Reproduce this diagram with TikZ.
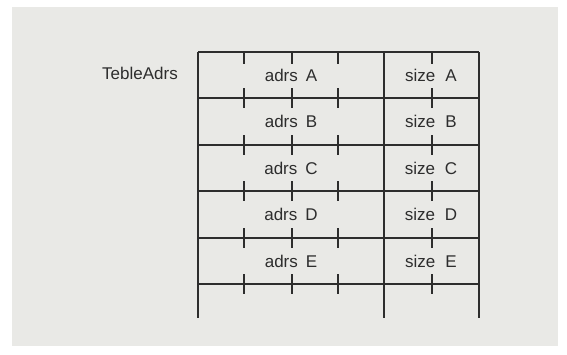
\documentclass[tikz,border=0pt]{standalone}
\usepackage{fontspec}
\setmainfont{Liberation Sans}
\usetikzlibrary{positioning}
\definecolor{paper}{RGB}{233,233,230}
\definecolor{ink}{RGB}{45,45,45}
\tikzset{
  cell/.style={font=\fontsize{17}{20}\selectfont, text=ink, inner sep=0pt},
  rule/.style={draw=ink, line width=1.1pt},
}

\begin{document}
\begin{tikzpicture}[x=1pt, y=-1pt]
    \useasboundingbox (0,0) rectangle (567,354);
    \fill[white] (0,0) rectangle (567,354);
    \fill[paper] (12,7) rectangle (558,346);

    % table frame
    \coordinate (tl) at (198,52);
    \coordinate (tm) at (384,52);
    \coordinate (tr) at (479,52);
    \coordinate (bl) at (198,318);
    \coordinate (bm) at (384,318);
    \coordinate (br) at (479,318);
    \draw[rule] (tl) -- (tr);
    \draw[rule] (tl) -- (bl) (tm) -- (bm) (tr) -- (br);

    % row lines with cross ticks
    \foreach \y in {98,145,191,238,284} {
        \draw[rule] (198,\y) -- (479,\y);
        \foreach \x in {244,292,338,432}
            \draw[rule] (\x,\y-10) -- (\x,\y+10);
    }
    \foreach \x in {244,292,338,432}
        \draw[rule] (\x,52) -- (\x,64);

    % entries
    \foreach \y/\l in {75/A,121.5/B,168/C,214.5/D,261/E} {
        \node[cell] (adrs\l) at (291,\y) {adrs\hspace{8pt}\l};
        \node[cell] (size\l) at (431,\y) {size\hspace{10pt}\l};
    }
    \node[cell] (table) at (140,73) {TebleAdrs};
\end{tikzpicture}
\end{document}
